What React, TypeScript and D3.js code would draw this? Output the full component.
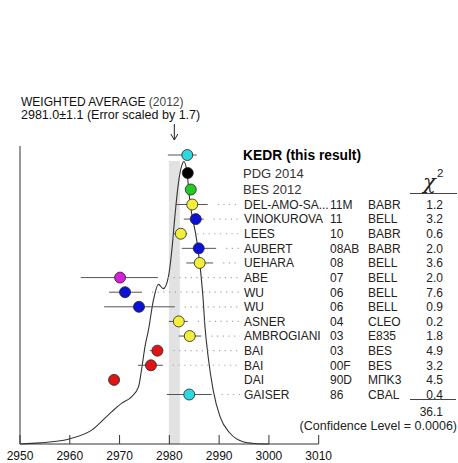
import React from "react";
import * as d3 from "d3";

// Measurements entering the ηc mass average
const authors = ["DEL-AMO-SA...", "VINOKUROVA", "LEES", "AUBERT", "UEHARA", "ABE", "WU", "WU", "ASNER", "AMBROGIANI", "BAI", "BAI", "DAI", "GAISER"];
const years = ["11M", "11", "10", "08AB", "08", "07", "06", "06", "04", "03", "03", "00F", "90D", "86"];
const collabs = ["BABR", "BELL", "BABR", "BABR", "BELL", "BELL", "BELL", "BELL", "CLEO", "E835", "BES", "BES", "MПK3", "CBAL"];
const chi2 = ["1.2", "3.2", "0.6", "2.0", "3.6", "2.0", "7.6", "0.9", "0.2", "1.8", "4.9", "3.2", "4.5", "0.4"];
const values = [2984.6, 2985.3, 2982.3, 2985.9, 2986.1, 2970.1, 2971.1, 2973.9, 2981.9, 2984.1, 2977.6, 2976.3, 2968.9, 2984.0];
const errLo = [3.3, 2.4, 1.5, 3.4, 2.7, 7.9, 3.2, 7.0, 2.0, 2.2, 1.5, 2.6, 0, 4.5];
const errHi = [3.1, 1.6, 1.3, 3.5, 2.7, 7.6, 3.4, 7.2, 1.8, 2.3, 1.1, 2.4, 0, 4.5];
const colors = ["yellow", "blue", "yellow", "blue", "yellow", "magenta", "blue", "blue", "yellow", "yellow", "red", "red", "red", "cyan"];
const inAverage = [true, true, true, true, true, true, true, true, true, true, true, true, false, true];

// Reference results shown above the list
const refLabels = ["KEDR (this result)", "PDG 2014", "BES 2012"];
const refValues = [2983.6, 2983.7, 2984.3];
const refErrLo = [3.9, 0, 0];
const refErrHi = [1.9, 0, 0];
const refColors = ["cyan", "black", "green"];

// Weighted average and fit quality
const average = 2981.0;
const averageErr = 1.1;
const chi2Total = "36.1";
const confidence = "(Confidence Level = 0.0006)";

// Ideogram sampled along the mass axis (relative height)
const ideoMass = [2950.0, 2954.0, 2959.7, 2964.4, 2968.4, 2970.4, 2972.4, 2973.8, 2974.4, 2975.1, 2975.8, 2976.8, 2977.8, 2978.8, 2979.8, 2980.5, 2981.1, 2981.8, 2982.5, 2982.9, 2983.5, 2984.1, 2985.5, 2986.1, 2986.8, 2987.1, 2987.8, 2988.8, 2990.2, 2992.2, 2994.8, 2997.0, 3000.0];
const ideoHeight = [0, 0.004, 0.017, 0.049, 0.114, 0.144, 0.167, 0.202, 0.261, 0.344, 0.403, 0.509, 0.565, 0.55, 0.591, 0.686, 0.803, 0.921, 0.986, 1.0, 0.968, 0.862, 0.721, 0.64, 0.509, 0.428, 0.308, 0.191, 0.096, 0.038, 0.008, 0.002, 0];

const xTicks = [2950, 2960, 2970, 2980, 2990, 3000, 3010];

const palette: Record<string, string> = {
  cyan: "#2fd8e0",
  black: "#000000",
  green: "#1fcc1f",
  yellow: "#f2ee3a",
  blue: "#0b12d6",
  magenta: "#d61fd6",
  red: "#e01414",
};

const W = 458;
const H = 463;
const FONT = "'Liberation Sans', Arial, Helvetica, sans-serif";

export default function App() {
  const x = d3.scaleLinear().domain([2950, 3010]).range([20, 318.7]);
  const axisY = 444;
  const yIdeo = d3.scaleLinear().domain([0, 1]).range([axisY, 161.5]);
  const rowY = d3.scaleLinear().domain([0, authors.length - 1]).range([204.5, 394.5]);
  const refY = [155, 173, 189.5];

  const ideoLine = d3
    .line<number>()
    .x((_, i) => x(ideoMass[i]))
    .y((d) => yIdeo(d))
    .curve(d3.curveMonotoneX);

  const labelX = 244;
  const yearX = 330;
  const collabX = 368;
  const chiX = 443;
  const dotEnd = 240;

  const marker = (cx: number, cy: number, c: string, key: string) => (
    <circle key={key} cx={cx} cy={cy} r={5.5} fill={palette[c]} stroke="#222" strokeWidth={0.8} />
  );

  const avgX = x(average);

  return (
    <svg width={W} height={H} style={{ position: "absolute", left: 0, top: 0, background: "#fff" }} fontFamily={FONT}>
      {/* average band */}
      <rect
        x={x(average - averageErr)}
        y={161}
        width={x(average + averageErr) - x(average - averageErr)}
        height={axisY - 161}
        fill="#e2e2e2"
      />

      {/* header text */}
      <text x={21} y={106} fontSize={12} fill="#111">
        WEIGHTED AVERAGE <tspan fill="#444">(2012)</tspan>
      </text>
      <text x={21} y={118.5} fontSize={12.5} fill="#111">
        {`${average.toFixed(1)}±${averageErr.toFixed(1)} (Error scaled by 1.7)`}
      </text>

      {/* arrow to the average */}
      <line x1={avgX} x2={avgX} y1={124} y2={140} stroke="#222" strokeWidth={1} />
      <path d={`M${avgX - 3.5},${134} L${avgX},${140} L${avgX + 3.5},${134}`} fill="none" stroke="#222" strokeWidth={1} />

      {/* axes */}
      <line x1={20} x2={20} y1={146} y2={axisY} stroke="#333" strokeWidth={1} />
      <line x1={20} x2={x(3010)} y1={axisY} y2={axisY} stroke="#333" strokeWidth={1} />
      {xTicks.map((t) => (
        <g key={t}>
          <line x1={x(t)} x2={x(t)} y1={axisY} y2={axisY - 9} stroke="#333" strokeWidth={1} />
          <text x={x(t)} y={axisY + 16} fontSize={12} textAnchor="middle" fill="#111">
            {t}
          </text>
        </g>
      ))}

      {/* ideogram */}
      <path d={ideoLine(ideoHeight) || ""} fill="none" stroke="#333" strokeWidth={1.1} />

      {/* dot leaders */}
      {values.map((v, i) =>
        inAverage[i] ? (
          <line
            key={`dl${i}`}
            x1={Math.max(x(v + errHi[i]), x(v) + 6) + 10}
            x2={dotEnd}
            y1={rowY(i)}
            y2={rowY(i)}
            stroke="#a5a5a5"
            strokeWidth={1.2}
            strokeDasharray="1.2 4.5"
          />
        ) : null
      )}

      {/* reference results */}
      {refValues.map((v, i) => (
        <g key={`r${i}`}>
          {refErrLo[i] + refErrHi[i] > 0 && (
            <line x1={x(v - refErrLo[i])} x2={x(v + refErrHi[i])} y1={refY[i]} y2={refY[i]} stroke="#555" strokeWidth={1} />
          )}
          {marker(x(v), refY[i], refColors[i], `rm${i}`)}
          <text
            x={labelX - 1}
            y={refY[i]}
            dy="0.36em"
            fontSize={i === 0 ? 13.8 : 13}
            fontWeight={i === 0 ? "bold" : "normal"}
            fill={i === 0 ? "#000" : "#333"}
          >
            {refLabels[i]}
          </text>
        </g>
      ))}

      {/* measurements */}
      {values.map((v, i) => (
        <g key={`m${i}`}>
          {errLo[i] + errHi[i] > 0 && (
            <line x1={x(v - errLo[i])} x2={x(v + errHi[i])} y1={rowY(i)} y2={rowY(i)} stroke="#555" strokeWidth={1} />
          )}
          {marker(x(v), rowY(i), colors[i], `mm${i}`)}
          <text x={labelX} y={rowY(i)} dy="0.36em" fontSize={12} fill="#222">
            {authors[i]}
          </text>
          <text x={yearX} y={rowY(i)} dy="0.36em" fontSize={12} fill="#222">
            {years[i]}
          </text>
          <text x={collabX} y={rowY(i)} dy="0.36em" fontSize={12} fill="#222">
            {collabs[i]}
          </text>
          <text x={chiX} y={rowY(i)} dy="0.36em" fontSize={12} fill="#222" textAnchor="end">
            {chi2[i]}
          </text>
        </g>
      ))}

      {/* chi-square column header and total */}
      <text x={423} y={189} fontSize={21} fontStyle="italic" fill="#222" fontFamily="'DejaVu Serif', serif">
        χ
      </text>
      <text x={437} y={177} fontSize={11.5} fill="#222">
        2
      </text>
      <line x1={410} x2={457} y1={193.5} y2={193.5} stroke="#444" strokeWidth={1} />
      <line x1={410} x2={456} y1={399.5} y2={399.5} stroke="#444" strokeWidth={1} />
      <text x={chiX} y={412} dy="0.36em" fontSize={12} fill="#222" textAnchor="end">
        {chi2Total}
      </text>
      <text x={457} y={425} dy="0.36em" fontSize={12.5} fill="#222" textAnchor="end">
        {confidence}
      </text>
    </svg>
  );
}
